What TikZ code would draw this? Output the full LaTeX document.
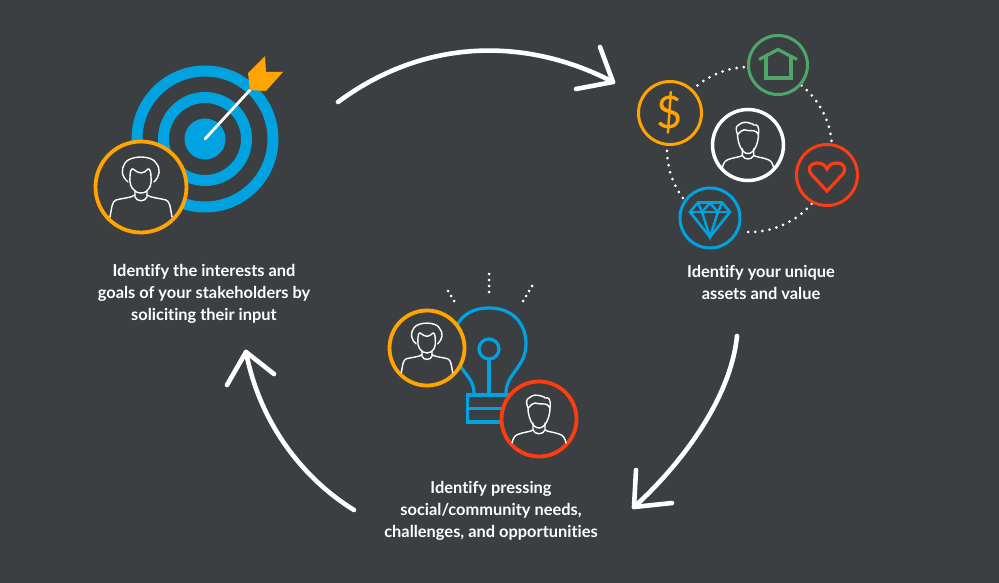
\documentclass[tikz,border=0pt]{standalone}
\usepackage{fontspec}
\setmainfont{Lato}[BoldFont={Lato Bold},Ligatures=NoCommon]
\usetikzlibrary{calc}
\definecolor{bg}{HTML}{3C3F42}
\definecolor{cblue}{HTML}{00A3E0}
\definecolor{corange}{HTML}{FFA400}
\definecolor{cgreen}{HTML}{4FA66B}
\definecolor{cred}{HTML}{FC3D12}
\tikzset{
  x=1pt,y=-1pt,
  bigarrow/.style={draw=white,line width=4.6pt,line cap=round,line join=round},
  ring/.style={circle,draw=#1,line width=3.8pt,fill=bg,inner sep=0pt},
  icon/.style={draw=#1,line width=3.2pt,line join=miter},
  personline/.style={draw=white,line width=1.4pt,line cap=round,line join=round},
  caption/.style={text=white,font=\fontsize{16.4}{22}\selectfont\bfseries,align=center,inner sep=0pt},
  woman/.pic={
    \draw[personline] (-13,-5) .. controls (-20,-11) and (-20,-18) .. (-16,-24) .. controls (-11,-32) and (11,-32) .. (15,-24) .. controls (20,-18) and (19,-11) .. (13,-5);
    \draw[personline] (-11,-10) .. controls (-11,-15) and (-10,-19) .. (-8,-18) .. controls (-5,-16) and (-3,-14) .. (0,-14) .. controls (3,-14) and (5,-16) .. (7,-18) .. controls (9,-19) and (10,-14) .. (10,-10) .. controls (11,-2) and (8,6) .. (0,6) .. controls (-8,6) and (-12,-2) .. (-11,-10);
    \draw[personline] (-31,30) .. controls (-29,19) and (-29,15) .. (-25,13) .. controls (-18,11) and (-10,11) .. (-6,8);
    \draw[personline] (31,30) .. controls (29,19) and (29,15) .. (25,13) .. controls (18,11) and (10,11) .. (6,8);
    \draw[personline] (-6,4) -- (-6,10) .. controls (-4,15) and (4,15) .. (6,10) -- (6,4);
  },
  man/.pic={
    \draw[personline] (-11,-11) .. controls (-13,-16) and (-13,-20) .. (-10,-21) .. controls (-6,-25) and (-1,-24) .. (2,-23) .. controls (5,-22) and (6,-22) .. (6,-21) .. controls (10,-22) and (12,-20) .. (11,-11) .. controls (11,-3) and (7,9) .. (0,9) .. controls (-7,9) and (-11,-3) .. (-11,-11);
    \draw[personline] (-11,-11) .. controls (-8,-14) and (-6,-16) .. (-4,-16) .. controls (0,-15) and (3,-15) .. (6,-15) .. controls (8,-15) and (10,-13) .. (11,-11);
    \draw[personline] (-27,24) .. controls (-26,19) and (-24,16) .. (-20,15) .. controls (-15,13) and (-9,13) .. (-6,11);
    \draw[personline] (27,24) .. controls (26,19) and (24,16) .. (20,15) .. controls (15,13) and (9,13) .. (6,11);
    \draw[personline] (-6,4) -- (-6,11) .. controls (-4,16) and (4,16) .. (6,11) -- (6,4);
  },
}
\begin{document}
\begin{tikzpicture}
\fill[bg] (0,0) rectangle (999,583);
\useasboundingbox (0,0) rectangle (999,583);

% target
\coordinate (tc) at (205,139);
\draw[cblue,line width=11pt] (tc) circle[radius=68];
\draw[cblue,line width=11pt] (tc) circle[radius=41.5];
\fill[cblue] (tc) circle[radius=20.5];
\coordinate (shaft) at (250,90);
\draw[white,line width=2.8pt,line cap=round] (tc) -- (shaft);
\fill[corange] (248,73) -- (265,56) -- (266,72) -- (283,72) -- (266,91) -- (250,90) -- cycle;
\node[ring=corange,minimum size=91pt] (w1) at (141,187) {};
\pic at (w1) {woman};

% assets
\coordinate (dc) at (749.5,149.5);
\foreach \a/\aa/\b in {231/236/268,309/314/356,41/46/94,144/149/180}{
  \foreach \t in {\a,\aa,...,\b}{
    \fill[white] (dc) ++(\t:82.5) circle[radius=1.5];
  }
}
\node[ring=white,minimum size=71pt,line width=3.5pt] (ma) at (748,145) {};
\pic[scale=.95] at (ma) {man};
\node[ring=corange,minimum size=63pt,line width=3pt] (dol) at (670,113) {};
\node[text=corange,font=\fontsize{45}{45}\selectfont] (dols) at (dol) {\$};
\node[ring=cgreen,minimum size=59pt,line width=3pt] (hou) at (778,65) {};
\draw[icon=cgreen] (759,59.5) -- (778,49.5) -- (797,59.5);
\draw[icon=cgreen] (766,56) -- (766,78) -- (791,78) -- (791,56);
\node[ring=cred,minimum size=61pt,line width=3pt] (hrt) at (827,175) {};
\draw[icon=cred] (827,191) -- (812,175) .. controls (806,168) and (811,163) .. (817,163) .. controls (822,163) and (825,165) .. (827,169) .. controls (829,165) and (832,163) .. (837,163) .. controls (843,163) and (848,168) .. (842,175) -- cycle;
\node[ring=cblue,minimum size=60pt,line width=3pt] (dia) at (710,218) {};
\draw[icon=cblue,line width=2.6pt] (698,202.5) -- (722,202.5) -- (730,212) -- (710,237) -- (690,212) -- cycle;
\draw[icon=cblue,line width=2.4pt] (690,212) -- (730,212);
\draw[icon=cblue,line width=2.4pt] (698,202.5) -- (702,212) -- (710,237) -- (718,212) -- (722,202.5);
\draw[icon=cblue,line width=2.4pt] (702,212) -- (710,203) -- (718,212);

% bulb
\foreach \x/\y in {448/291,451/296,454/301,489/274,489/280,489/286,489/292,532/286,529/291,526/296,523/301}{
  \fill[white] (\x,\y) circle[radius=1.5];
}
\draw[icon=cblue] (474,393) .. controls (474,381) and (466,375) .. (461,367) .. controls (445,345) and (452,308) .. (489,308) .. controls (526,308) and (533,345) .. (520,364) .. controls (513,375) and (506,381) .. (506,393);
\draw[icon=cblue] (489,359) -- (489,393);
\draw[icon=cblue] (489,349) circle[radius=10];
\draw[icon=cblue] (467.5,395) rectangle (511,422);
\draw[icon=cblue] (467.5,408.5) -- (511,408.5);
\node[ring=corange,minimum size=75pt] (w2) at (427,348) {};
\pic[scale=.83] at (w2) {woman};
\node[ring=cred,minimum size=75pt] (m2) at (539,419) {};
\pic at (m2) {man};

% captions
\node[caption] (t1) at (204,293.5) {Identify the interests and\\goals of your stakeholders by\\soliciting their input};
\node[caption] (t2) at (761,282.5) {Identify your unique\\assets and value};
\node[caption] (t3) at (491,510.5) {Identify pressing\\social/community needs,\\challenges, and opportunities};

% flow arrows
\coordinate (a1s) at (338,102);
\coordinate (a1e) at (613,82);
\draw[bigarrow] (a1s) .. controls (430,34) and (533,40) .. (a1e);
\draw[bigarrow] (600,47) -- (a1e) -- (576,89);
\coordinate (a2s) at (737,336);
\coordinate (a2e) at (634,507);
\draw[bigarrow] (a2s) .. controls (730,405) and (672,473) .. (a2e);
\draw[bigarrow] (636,470) -- (a2e) -- (672,503);
\coordinate (a3s) at (354,510);
\coordinate (a3e) at (246,352);
\draw[bigarrow] (a3s) .. controls (305,480) and (260,425) .. (a3e);
\draw[bigarrow] (227,385) -- (a3e) -- (274,374);
\end{tikzpicture}
\end{document}
